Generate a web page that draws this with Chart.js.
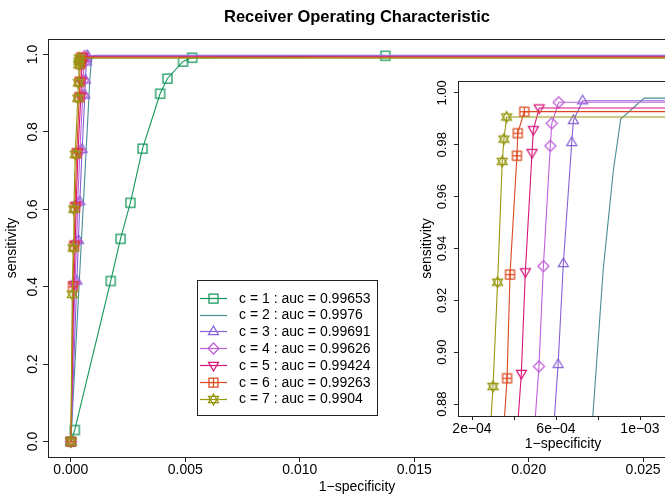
<!DOCTYPE html>
<html>
<head>
<meta charset="utf-8">
<script src="https://cdn.jsdelivr.net/npm/chart.js@4.4.0/dist/chart.umd.min.js"></script>
<style>
html, body { margin: 0; padding: 0; background: #fff; overflow: hidden; }
#wrap { position: relative; width: 680px; height: 494px; }
#main { position: absolute; left: 0; top: 0; }
#inset { position: absolute; left: 410px; top: 70px; }
</style>
</head>
<body>
<div id="wrap">
  <canvas id="main" width="680" height="494" style="width:680px;height:494px"></canvas>
  <canvas id="inset" width="270" height="390" style="width:270px;height:390px"></canvas>
</div>
<script>
'use strict';

// ROC points: x = 1-specificity, y = sensitivity
const fpr1 = [0, 0.00017, 0.00174, 0.00217, 0.0026, 0.00313, 0.0039, 0.00422, 0.0049, 0.0053, 0.01374, 1];
const tpr1 = [0, 0.03, 0.415, 0.524, 0.617, 0.757, 0.899, 0.938, 0.982, 0.992, 0.997, 1];

const fpr2 = [0, 0.000775, 0.000825, 0.000873, 0.000908, 0.00102, 1];
const tpr2 = [0, 0.875, 0.932, 0.970, 0.9899, 0.998, 0.998];

const fpr3 = [0, 0.00026, 0.00033, 0.00039, 0.00049, 0.00061, 0.000635, 0.000675, 0.000683, 0.000727, 1];
const tpr3 = [0, 0.415, 0.52, 0.62, 0.755, 0.8953, 0.9342, 0.9809, 0.9894, 0.997, 0.997];

const fpr4 = [0, 0.00018, 0.00025, 0.0003, 0.00039, 0.000519, 0.00054, 0.000573, 0.00058, 0.000613, 1];
const tpr4 = [0, 0.41, 0.515, 0.615, 0.75, 0.8945, 0.9332, 0.9796, 0.9883, 0.9964, 0.9964];

const fpr5 = [0, 0.00013, 0.00019, 0.00023, 0.00031, 0.000435, 0.000454, 0.000486, 0.000492, 0.00052, 1];
const tpr5 = [0, 0.405, 0.51, 0.61, 0.748, 0.8918, 0.931, 0.977, 0.9858, 0.9942, 0.9942];

const fpr6 = [0, 0.00009, 0.00014, 0.00018, 0.00025, 0.000367, 0.000381, 0.000414, 0.000418, 0.000449, 1];
const tpr6 = [0, 0.40, 0.505, 0.605, 0.745, 0.890, 0.930, 0.9758, 0.9845, 0.9928, 0.9928];

const fpr7 = [0, 0.00006, 0.0001, 0.00013, 0.00019, 0.0003, 0.000322, 0.000344, 0.000352, 0.000365, 1];
const tpr7 = [0, 0.38, 0.50, 0.60, 0.742, 0.8868, 0.927, 0.9736, 0.9822, 0.9907, 0.9907];

const seriesNames = [
  'c = 1 : auc = 0.99653',
  'c = 2 : auc = 0.9976',
  'c = 3 : auc = 0.99691',
  'c = 4 : auc = 0.99626',
  'c = 5 : auc = 0.99424',
  'c = 6 : auc = 0.99263',
  'c = 7 : auc = 0.9904'
];
const seriesColors = ['#12975a', '#4a8c96', '#8762d6', '#c061da', '#d8147a', '#dc4a22', '#979712'];
const seriesMarks = ['square', 'none', 'triUp', 'diamond', 'triDown', 'squarePlus', 'star'];

const mainXTicks = [0, 0.005, 0.010, 0.015, 0.020, 0.025];
const mainYTicks = [0, 0.2, 0.4, 0.6, 0.8, 1.0];
const insetXTicks = [0.0002, 0.0004, 0.0006, 0.0008, 0.001];
const insetXLabels = ['2e\u221204', '', '6e\u221204', '', '1e\u221203'];
const insetYTicks = [0.88, 0.90, 0.92, 0.94, 0.96, 0.98, 1.00];

const FONT = "'Liberation Sans', Arial, Helvetica, sans-serif";
const allFpr = [fpr1, fpr2, fpr3, fpr4, fpr5, fpr6, fpr7];
const allTpr = [tpr1, tpr2, tpr3, tpr4, tpr5, tpr6, tpr7];

// open R-like plotting symbols
function drawMark(ctx, kind, cx, cy, color) {
  ctx.save();
  ctx.strokeStyle = color;
  ctx.lineWidth = 1.25;
  ctx.beginPath();
  if (kind === 'square' || kind === 'squarePlus') {
    ctx.rect(cx - 4.5, cy - 4.5, 9, 9);
    if (kind === 'squarePlus') {
      ctx.moveTo(cx, cy - 4.5); ctx.lineTo(cx, cy + 4.5);
      ctx.moveTo(cx - 4.5, cy); ctx.lineTo(cx + 4.5, cy);
    }
  }
  if (kind === 'triUp' || kind === 'star') {
    ctx.moveTo(cx, cy - 5.5); ctx.lineTo(cx + 5, cy + 3.2); ctx.lineTo(cx - 5, cy + 3.2); ctx.closePath();
  }
  if (kind === 'triDown' || kind === 'star') {
    ctx.moveTo(cx, cy + 5.5); ctx.lineTo(cx + 5, cy - 3.2); ctx.lineTo(cx - 5, cy - 3.2); ctx.closePath();
  }
  if (kind === 'diamond') {
    ctx.moveTo(cx, cy - 5.5); ctx.lineTo(cx + 5.5, cy); ctx.lineTo(cx, cy + 5.5); ctx.lineTo(cx - 5.5, cy); ctx.closePath();
  }
  ctx.stroke();
  ctx.restore();
}

function markImage(kind, color) {
  const c = document.createElement('canvas');
  c.width = 15; c.height = 15;
  drawMark(c.getContext('2d'), kind, 7.5, 7.5, color);
  return c;
}

function makeDatasets() {
  let sets = [];
  for (let i = 0; i < 7; i++) {
    sets.push({
      label: seriesNames[i],
      data: allFpr[i].map((x, j) => ({ x: x, y: allTpr[i][j] })),
      borderColor: seriesColors[i],
      borderWidth: 1.1,
      backgroundColor: 'transparent',
      pointStyle: seriesMarks[i] === 'none' ? 'circle' : markImage(seriesMarks[i], seriesColors[i]),
      pointRadius: seriesMarks[i] === 'none' ? 0 : 5,
      tension: 0,
      order: 7 - i
    });
  }
  return sets;
}

function boxAndText(chart, yLabX, yTitleX, xTitleY, fontSize, yFmt) {
  const ctx = chart.ctx, a = chart.chartArea, ys = chart.scales.y;
  ctx.save();
  ctx.strokeStyle = '#222';
  ctx.lineWidth = 1;
  ctx.strokeRect(Math.round(a.left) + 0.5, Math.round(a.top) + 0.5, Math.round(a.right - a.left), Math.round(a.bottom - a.top));
  ctx.fillStyle = '#000';
  ctx.font = fontSize + 'px ' + FONT;
  ctx.textAlign = 'center';
  ctx.textBaseline = 'middle';
  ys.ticks.forEach(t => {
    ctx.save();
    ctx.translate(yLabX, ys.getPixelForValue(t.value));
    ctx.rotate(-Math.PI / 2);
    ctx.fillText(yFmt(t.value), 0, 0);
    ctx.restore();
  });
  ctx.font = '14px ' + FONT;
  ctx.save();
  ctx.translate(yTitleX, (a.top + a.bottom) / 2);
  ctx.rotate(-Math.PI / 2);
  ctx.fillText('sensitivity', 0, 0);
  ctx.restore();
  ctx.fillText('1\u2212specificity', (a.left + a.right) / 2, xTitleY);
  ctx.restore();
}

const mainDecor = {
  id: 'mainDecor',
  afterDraw(chart) {
    const ctx = chart.ctx, a = chart.chartArea;
    boxAndText(chart, 33, 12, 487, 14, v => v.toFixed(1));
    ctx.save();
    ctx.fillStyle = '#000';
    ctx.font = 'bold 16.5px ' + FONT;
    ctx.textAlign = 'center';
    ctx.textBaseline = 'middle';
    ctx.fillText('Receiver Operating Characteristic', (a.left + a.right) / 2, 17);
    // legend
    ctx.fillStyle = '#fff';
    ctx.fillRect(197.5, 280.5, 180, 135);
    ctx.strokeStyle = '#222';
    ctx.lineWidth = 1;
    ctx.strokeRect(197.5, 280.5, 180, 135);
    ctx.font = '14px ' + FONT;
    ctx.textAlign = 'left';
    for (let i = 0; i < 7; i++) {
      const y = 297.7 + i * 16.8;
      ctx.strokeStyle = seriesColors[i];
      ctx.lineWidth = 1.2;
      ctx.beginPath();
      ctx.moveTo(200, Math.round(y) + 0.5);
      ctx.lineTo(227, Math.round(y) + 0.5);
      ctx.stroke();
      if (seriesMarks[i] !== 'none') drawMark(ctx, seriesMarks[i], 213.5, Math.round(y) + 0.5, seriesColors[i]);
      ctx.fillStyle = '#000';
      ctx.fillText(seriesNames[i], 239, y + 1);
    }
    ctx.restore();
  }
};

const insetDecor = {
  id: 'insetDecor',
  afterDraw(chart) {
    boxAndText(chart, 32, 17, 374, 13, v => v.toFixed(2));
  }
};

const tickGrid = { drawOnChartArea: false, drawTicks: true, tickLength: 5, color: '#222' };

new Chart(document.getElementById('main'), {
  type: 'line',
  data: { datasets: makeDatasets() },
  options: {
    responsive: false,
    animation: false,
    devicePixelRatio: 1,
    layout: { padding: { top: 39, right: 14, left: 0, bottom: 0 } },
    plugins: { legend: { display: false }, tooltip: { enabled: false } },
    scales: {
      x: {
        type: 'linear', min: -0.001, max: 0.026,
        afterBuildTicks: s => { s.ticks = mainXTicks.map(v => ({ value: v })); },
        afterFit: s => { s.height = 37; },
        grid: tickGrid, border: { display: false },
        ticks: { color: '#000', font: { family: FONT, size: 14 }, padding: 0, maxRotation: 0, autoSkip: false,
          callback: v => v.toFixed(3) }
      },
      y: {
        type: 'linear', min: -0.04, max: 1.04,
        afterBuildTicks: s => { s.ticks = mainYTicks.map(v => ({ value: v })); },
        afterFit: s => { s.width = 48; },
        grid: tickGrid, border: { display: false },
        ticks: { display: false }
      }
    }
  },
  plugins: [mainDecor]
});

new Chart(document.getElementById('inset'), {
  type: 'line',
  data: { datasets: makeDatasets() },
  options: {
    responsive: false,
    animation: false,
    devicePixelRatio: 1,
    layout: { padding: { top: 11, right: 12, left: 0, bottom: 0 } },
    plugins: { legend: { display: false }, tooltip: { enabled: false } },
    scales: {
      x: {
        type: 'linear', min: 0.00013333, max: 0.00113333,
        afterBuildTicks: s => { s.ticks = insetXTicks.map(v => ({ value: v })); },
        afterFit: s => { s.height = 44; },
        grid: { drawOnChartArea: false, drawTicks: true, tickLength: 4, color: '#222' }, border: { display: false },
        ticks: { color: '#000', font: { family: FONT, size: 14 }, padding: 1, maxRotation: 0, autoSkip: false,
          callback: (v, i) => insetXLabels[i] }
      },
      y: {
        type: 'linear', min: 0.8754, max: 1.0046,
        afterBuildTicks: s => { s.ticks = insetYTicks.map(v => ({ value: v })); },
        afterFit: s => { s.width = 48; },
        grid: { drawOnChartArea: false, drawTicks: true, tickLength: 4, color: '#222' }, border: { display: false },
        ticks: { display: false }
      }
    }
  },
  plugins: [insetDecor]
});
</script>
</body>
</html>
